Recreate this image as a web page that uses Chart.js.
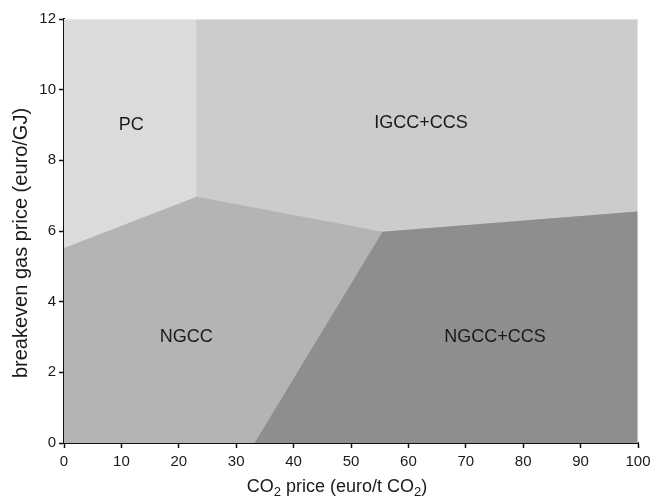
<!DOCTYPE html>
<html>
<head>
<meta charset="utf-8">
<script src="https://cdn.jsdelivr.net/npm/chart.js@4.4.1/dist/chart.umd.min.js"></script>
<style>
  html, body { margin: 0; padding: 0; background: #ffffff; }
  #wrap { width: 665px; height: 499px; }
</style>
</head>
<body>
<div id="wrap"><canvas id="c" width="665" height="499"></canvas></div>
<script>
// ---- data ----
// region boundaries: CO2 price (euro/t CO2) vs breakeven gas price (euro/GJ)
const igccX = [0, 100];
const igccY = [12, 12];
const pcX = [0, 23.1];
const pcY = [12, 12];
const ngccX = [0, 23.1, 55.5, 100];
const ngccY = [5.52, 6.97, 5.98, 6.55];
const ngccCcsX = [33.2, 55.5, 100];
const ngccCcsY = [0, 5.98, 6.55];
const frameX = [0, 100, 100];
const frameY = [12, 12, 0];

const regionNames = ['PC', 'IGCC+CCS', 'NGCC', 'NGCC+CCS'];
const regionLabelX = [11.7, 62.2, 21.3, 75.1];
const regionLabelY = [9.0, 9.06, 3.0, 3.0];

const xTickValues = [0, 10, 20, 30, 40, 50, 60, 70, 80, 90, 100];
const yTickValues = [0, 2, 4, 6, 8, 10, 12];

const xTitleParts = [['CO', false], ['2', true], [' price (euro/t CO', false], ['2', true], [')', false]];
const yTitle = 'breakeven gas price (euro/GJ)';

// ---- helpers ----
const pts = (xs, ys) => xs.map((v, i) => ({ x: v, y: ys[i] }));
const FONT = '"Liberation Sans", Arial, Helvetica, sans-serif';
const TEXT = '#1a1a1a';

const regionLabels = {
  id: 'regionLabels',
  afterDatasetsDraw(chart) {
    const { ctx, scales: { x, y } } = chart;
    ctx.save();
    ctx.font = '18px ' + FONT;
    ctx.fillStyle = TEXT;
    ctx.textAlign = 'center';
    ctx.textBaseline = 'middle';
    regionNames.forEach((n, i) => {
      ctx.fillText(n, x.getPixelForValue(regionLabelX[i]), y.getPixelForValue(regionLabelY[i]));
    });
    ctx.restore();
  }
};

const axisTitles = {
  id: 'axisTitles',
  afterDraw(chart) {
    const { ctx } = chart;
    ctx.save();
    ctx.fillStyle = TEXT;
    ctx.textBaseline = 'middle';
    ctx.textAlign = 'left';
    const mainFont = '18px ' + FONT, subFont = '13px ' + FONT;
    let total = 0;
    xTitleParts.forEach(([t, sub]) => { ctx.font = sub ? subFont : mainFont; total += ctx.measureText(t).width; });
    let cx = 337 - total / 2;
    const cy = 487;
    xTitleParts.forEach(([t, sub]) => {
      ctx.font = sub ? subFont : mainFont;
      ctx.fillText(t, cx, sub ? cy + 5 : cy);
      cx += ctx.measureText(t).width;
    });
    ctx.translate(21, 243);
    ctx.rotate(-Math.PI / 2);
    ctx.font = '20px ' + FONT;
    ctx.textAlign = 'center';
    ctx.fillText(yTitle, 0, 0);
    ctx.restore();
  }
};

const common = { showLine: true, pointRadius: 0, pointHoverRadius: 0, borderWidth: 0, borderColor: 'rgba(0,0,0,0)', tension: 0 };

new Chart(document.getElementById('c'), {
  type: 'scatter',
  data: {
    datasets: [
      Object.assign({}, common, { label: 'frame', data: pts(frameX, frameY), borderWidth: 2, borderColor: 'rgba(255,255,255,0.45)', fill: false, order: -1 }),
      Object.assign({}, common, { label: 'NGCC+CCS', data: pts(ngccCcsX, ngccCcsY), backgroundColor: '#8e8e8e', fill: 'start', order: 0 }),
      Object.assign({}, common, { label: 'NGCC', data: pts(ngccX, ngccY), backgroundColor: '#b4b4b4', fill: 'start', order: 1 }),
      Object.assign({}, common, { label: 'PC', data: pts(pcX, pcY), backgroundColor: '#dbdbdb', fill: 'start', order: 2 }),
      Object.assign({}, common, { label: 'IGCC+CCS', data: pts(igccX, igccY), backgroundColor: '#cccccc', fill: 'start', order: 3 })
    ]
  },
  options: {
    responsive: false,
    animation: false,
    events: [],
    layout: { padding: { top: 19, right: 27, left: 0, bottom: 0 } },
    plugins: { legend: { display: false }, tooltip: { enabled: false }, title: { display: false } },
    scales: {
      x: {
        type: 'linear', min: 0, max: 100,
        afterFit(s) { s.height = 56; },
        afterBuildTicks(s) { s.ticks = xTickValues.map(v => ({ value: v })); },
        ticks: { color: TEXT, font: { size: 15, family: FONT }, padding: 5, maxRotation: 0, autoSkip: false },
        grid: { drawOnChartArea: false, drawTicks: true, tickLength: 5, tickColor: '#111', tickWidth: 1.5 },
        border: { display: true, color: '#111', width: 2 }
      },
      y: {
        type: 'linear', min: 0, max: 12,
        afterFit(s) { s.width = 64; },
        afterBuildTicks(s) { s.ticks = yTickValues.map(v => ({ value: v })); },
        ticks: { color: TEXT, font: { size: 15, family: FONT }, padding: 3, autoSkip: false },
        grid: { drawOnChartArea: false, drawTicks: true, tickLength: 5, tickColor: '#111', tickWidth: 1.5 },
        border: { display: true, color: '#111', width: 2 }
      }
    }
  },
  plugins: [regionLabels, axisTitles]
});
</script>
</body>
</html>
